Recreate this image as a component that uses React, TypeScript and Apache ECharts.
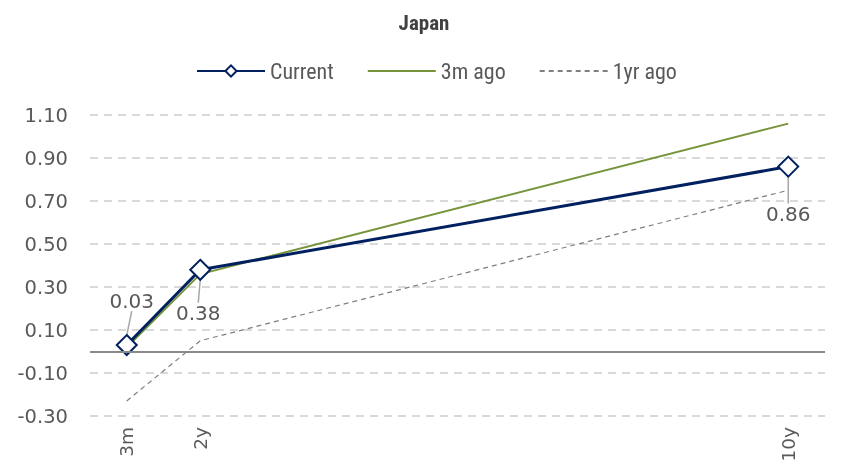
import React, { useEffect, useRef } from "react";
import * as echarts from "echarts";

const tenors = ["3m", "2y", "3y", "4y", "5y", "6y", "7y", "8y", "9y", "10y"];
const labelledTenors = ["3m", "2y", "10y"];
const currentValues = [0.03, 0.38, 0.86];
const threeMonthsAgo = [0.02, 0.36, 1.06];
const oneYearAgo = [-0.23, 0.05, 0.75];
const yTicks = { min: -0.3, max: 1.1, interval: 0.2 };

const FONT = "'Roboto Condensed', 'Liberation Sans Narrow', 'Liberation Sans', sans-serif";
const LABEL_FONT = "'DejaVu Sans', Verdana, sans-serif";

function pairs(values: number[]) {
  return labelledTenors.map((t, i) => [t, values[i]]);
}

// label placement for the current-curve data labels (layout only)
const labelPos = ["top", "bottom", "bottom"];
const labelShift = [
  { dx: 5, dy: -18 },
  { dx: -2, dy: 17 },
  { dx: 0, dy: 21 },
];

export default function App() {
  const ref = useRef<HTMLDivElement>(null);
  useEffect(() => {
    const chart = echarts.init(ref.current!, undefined, { renderer: "svg" });
    chart.setOption({
      animation: false,
      title: {
        text: "Japan",
        left: "center",
        top: 7,
        textStyle: { fontFamily: FONT, fontSize: 21, fontWeight: "bold", color: "#404040" },
      },
      legend: {
        top: 55,
        left: 191,
        itemWidth: 68,
        itemHeight: 14,
        itemGap: 33,
        textStyle: { fontFamily: FONT, fontSize: 22, color: "#595959", width: 68 },
        data: [
          { name: "Current" },
          { name: "3m ago", itemStyle: { opacity: 0 } },
          { name: "1yr ago", itemStyle: { opacity: 0 } },
        ],
      },
      grid: { left: 90, right: 23, top: 115, bottom: 48, outerBoundsMode: "none", containLabel: false },
      xAxis: {
        type: "category",
        data: tenors,
        boundaryGap: true,
        axisLine: { show: false },
        axisTick: { show: false },
        splitLine: { show: false },
        axisLabel: {
          rotate: 90,
          interval: 0,
          margin: 11,
          fontFamily: LABEL_FONT,
          fontSize: 18.5,
          color: "#595959",
          formatter: (v: string) => (labelledTenors.includes(v) ? v : ""),
        },
      },
      yAxis: {
        type: "value",
        min: yTicks.min,
        max: yTicks.max,
        interval: yTicks.interval,
        axisLine: { show: false },
        axisTick: { show: false },
        axisLabel: {
          fontFamily: LABEL_FONT,
          fontSize: 19.5,
          color: "#595959",
          margin: 22,
          formatter: (v: number) => v.toFixed(2),
        },
        splitLine: { lineStyle: { color: "#d9d9d9", width: 2, type: [8, 6] } },
      },
      series: [
        {
          name: "1yr ago",
          type: "line",
          data: pairs(oneYearAgo),
          symbol: "none",
          lineStyle: { color: "#7f7f7f", width: 1.2, type: [5, 4] },
          itemStyle: { color: "#7f7f7f" },
          z: 2,
          markLine: {
            silent: true,
            symbol: "none",
            label: { show: false },
            lineStyle: { color: "#898989", width: 2, type: "solid" },
            data: [{ yAxis: 0 }],
          },
        },
        {
          name: "3m ago",
          type: "line",
          data: pairs(threeMonthsAgo),
          symbol: "none",
          lineStyle: { color: "#77933c", width: 2 },
          itemStyle: { color: "#77933c" },
          z: 3,
        },
        {
          name: "Current",
          type: "line",
          data: pairs(currentValues).map((v, i) => ({
            value: v,
            label: { position: labelPos[i] },
          })),
          symbol: "diamond",
          symbolSize: 20,
          lineStyle: { color: "#002060", width: 3 },
          itemStyle: { color: "#ffffff", borderColor: "#002060", borderWidth: 2 },
          z: 4,
          label: {
            show: true,
            fontFamily: LABEL_FONT,
            fontSize: 20,
            color: "#595959",
            formatter: (p: any) => Number(p.value[1]).toFixed(2),
          },
          labelLine: { show: true, lineStyle: { color: "#a6a6a6", width: 1.5 } },
          labelLayout: (p: any) => ({ dx: labelShift[p.dataIndex].dx, dy: labelShift[p.dataIndex].dy }),
        },
      ],
    });
    return () => chart.dispose();
  }, []);
  return (
    <div
      ref={ref}
      style={{ width: 848, height: 464, position: "fixed", left: 0, top: 0 }}
    />
  );
}
